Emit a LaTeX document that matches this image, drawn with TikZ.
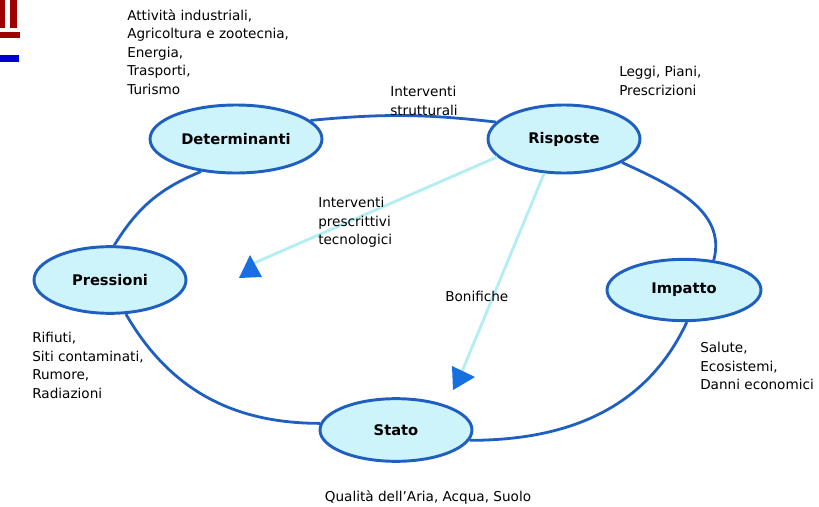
\documentclass[tikz,border=0pt]{standalone}
\usepackage{fontspec}
\setmainfont{DejaVu Sans}
\usetikzlibrary{shapes.geometric}
\definecolor{ringblue}{HTML}{1E5FC0}
\definecolor{cellfill}{HTML}{CDF3FB}
\definecolor{arrowcyan}{HTML}{B5EEF2}
\definecolor{tipblue}{HTML}{1670E0}
\definecolor{logored}{HTML}{A00000}
\definecolor{logoblue}{HTML}{0000CC}
\begin{document}
\begin{tikzpicture}[x=0.75pt,y=-0.75pt,
  stage/.style={ellipse, draw=ringblue, line width=2.2pt, fill=cellfill, inner sep=0pt,
    font=\bfseries\fontsize{11}{13}\selectfont},
  ring/.style={draw=ringblue, line width=2.1pt},
  flow/.style={draw=arrowcyan, line width=2.2pt},
  note/.style={align=left, font=\fontsize{10.2}{13.9}\selectfont, inner sep=0pt, anchor=north west},
  tipmark/.style={fill=tipblue}]
\useasboundingbox (0,0) rectangle (819,507);
% logo
\fill[logored] (0,0) rectangle (5,28);
\fill[logored] (10,0) rectangle (17,28);
\fill[logored] (0,32) rectangle (20,38);
\fill[logoblue] (0,55) rectangle (19,62);
% stages
\node[stage, minimum width=129pt, minimum height=51pt] (det) at (236,139) {Determinanti};
\node[stage, minimum width=114pt, minimum height=51pt] (ris) at (564,139) {Risposte};
\node[stage, minimum width=114pt, minimum height=50pt] (pre) at (110,280) {Pressioni};
\node[stage, minimum width=115.5pt, minimum height=46pt] (imp) at (684,290) {Impatto};
\node[stage, minimum width=114pt, minimum height=47pt] (sta) at (396,430) {Stato};
% ring
\draw[ring] (det.14) to[bend left=6] (ris.166);
\draw[ring] (ris.-22) to[out=-25,in=75] (imp.45);
\draw[ring] (imp.-85) to[out=-115,in=0] (sta.-8);
\draw[ring] (sta.175) to[out=180,in=-60] (pre.-65);
\draw[ring] (pre.83) to[bend left=18] (det.-137);
% flows
\coordinate (endp) at (252,264);
\coordinate (ends) at (461,374);
\draw[flow] (ris.-165) -- (endp);
\draw[flow] (ris.-120) -- (ends);
\fill[tipmark] (250,255) -- (239,278) -- (262,277) -- cycle;
\fill[tipmark] (452,366) -- (475,377) -- (453,390) -- cycle;
% notes
\node[note] (n1) at (127,9) {Attività industriali,\\Agricoltura e zootecnia,\\Energia,\\Trasporti,\\Turismo};
\node[note] (n2) at (390,86) {Interventi\\strutturali};
\node[note] (n3) at (619,66) {Leggi, Piani,\\Prescrizioni};
\node[note] (n4) at (318,197) {Interventi\\prescrittivi\\tecnologici};
\node[note] (n5) at (445,291) {Bonifiche};
\node[note] (n6) at (32,332) {Rifiuti,\\Siti contaminati,\\Rumore,\\Radiazioni};
\node[note] (n7) at (700,342) {Salute,\\Ecosistemi,\\Danni economici};
\node[note, anchor=north] (n8) at (428,490) {Qualità dell'Aria, Acqua, Suolo};
\end{tikzpicture}
\end{document}
